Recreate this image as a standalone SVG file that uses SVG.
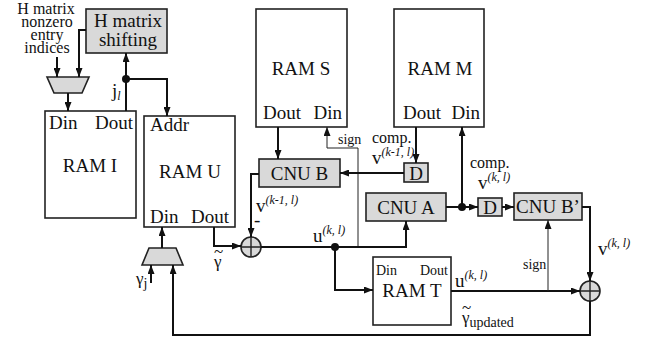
<svg xmlns="http://www.w3.org/2000/svg" width="651" height="343" viewBox="0 0 651 343" font-family="'Liberation Serif', 'Times New Roman', serif">
<defs>
<marker id="ah" markerWidth="9" markerHeight="7" refX="9" refY="3.5" orient="auto" markerUnits="userSpaceOnUse">
<path d="M0,0 L9,3.5 L0,7 z" fill="#111"/>
</marker>
<style>
.box{fill:#fff;stroke:#222;stroke-width:1.6}
.gbox{fill:#d9d9d9;stroke:#222;stroke-width:1.6}
.w{fill:none;stroke:#111;stroke-width:2;marker-end:url(#ah)}
.wn{fill:none;stroke:#111;stroke-width:2}
.t{fill:none;stroke:#222;stroke-width:1;marker-end:url(#ah)}
text{font-family:'Liberation Serif','Times New Roman',serif;fill:#111}
.l{font-size:19px}
.g{font-size:17px}
.m{font-size:16px}
.s{font-size:14px}
.sup{font-size:12px;font-style:italic}
.dot{fill:#111}
</style>
</defs>
<rect width="651" height="343" fill="#fff"/>

<g id="indices-label">
<text class="m" text-anchor="middle"><tspan x="46" y="14">H matrix</tspan><tspan x="47" y="27">nonzero</tspan><tspan x="47" y="40">entry</tspan><tspan x="47" y="53">indices</tspan></text>
</g>

<g id="h-shift">
<rect class="gbox" x="86" y="9" width="81" height="44"/>
<text class="l" x="128" y="27" text-anchor="middle">H matrix</text>
<text class="l" x="128" y="46" text-anchor="middle">shifting</text>
</g>

<g id="mux1">
<polygon class="gbox" points="47,77 89,77 82,93 54,93"/>
</g>

<g id="ram-i">
<rect class="box" x="45" y="111" width="91" height="107"/>
<text class="l" x="49" y="129">Din</text>
<text class="l" x="133" y="129" text-anchor="end">Dout</text>
<text class="l" x="90" y="172" text-anchor="middle">RAM I</text>
</g>

<g id="ram-u">
<rect class="box" x="144" y="116" width="91" height="111"/>
<text class="l" x="150" y="131">Addr</text>
<text class="l" x="190" y="178" text-anchor="middle">RAM U</text>
<text class="l" x="150" y="223">Din</text>
<text class="l" x="229" y="223" text-anchor="end">Dout</text>
</g>

<g id="mux2">
<polygon class="gbox" points="149,248 176,248 183,265 142,265"/>
</g>

<g id="ram-s">
<rect class="box" x="256" y="9" width="91" height="118"/>
<text class="l" x="301" y="75" text-anchor="middle">RAM S</text>
<text class="l" x="263" y="119">Dout</text>
<text class="l" x="342" y="119" text-anchor="end">Din</text>
</g>

<g id="ram-m">
<rect class="box" x="394" y="9" width="90" height="118"/>
<text class="l" x="440" y="75" text-anchor="middle">RAM M</text>
<text class="l" x="403" y="119">Dout</text>
<text class="l" x="480" y="119" text-anchor="end">Din</text>
</g>

<g id="cnu-b">
<rect class="gbox" x="259" y="159" width="81" height="28"/>
<text class="l" x="299.5" y="180" text-anchor="middle">CNU B</text>
</g>

<g id="d1">
<rect class="gbox" x="404" y="163" width="24" height="19"/>
<text class="l" x="416" y="180" text-anchor="middle">D</text>
</g>

<g id="cnu-a">
<rect class="gbox" x="366" y="193" width="80" height="28"/>
<text class="l" x="406" y="214" text-anchor="middle">CNU A</text>
</g>

<g id="d2">
<rect class="gbox" x="478" y="198" width="24" height="18"/>
<text class="l" x="490" y="214" text-anchor="middle">D</text>
</g>

<g id="cnu-b2">
<rect class="gbox" x="514" y="193" width="68" height="27"/>
<text class="l" x="548" y="213" text-anchor="middle">CNU B’</text>
</g>

<g id="ram-t">
<rect class="box" x="373" y="257" width="78" height="68"/>
<text class="s" x="376" y="275">Din</text>
<text class="s" x="448" y="275" text-anchor="end">Dout</text>
<text class="l" x="412" y="297" text-anchor="middle">RAM T</text>
</g>

<g id="adder1">
<circle class="gbox" cx="251" cy="247" r="10"/>
<path d="M241,247 H261 M251,237 V257" stroke="#222" stroke-width="1.4"/>
</g>

<g id="adder2">
<circle class="gbox" cx="590" cy="291" r="10"/>
<path d="M580,291 H600 M590,281 V301" stroke="#222" stroke-width="1.4"/>
</g>

<g id="connectors">
<path class="w" d="M57,57 V77"/>
<path class="w" d="M86,30 H79 V77"/>
<path class="w" d="M68,93 V111"/>
<path class="wn" d="M126,111 V79"/>
<path class="w" d="M126,79 V53"/>
<path class="w" d="M126,79 H167 V116"/>
<path class="w" d="M214,227 V246 H241"/>
<path class="w" d="M162,248 V227"/>
<path class="w" d="M151,283 V265"/>
<path class="w" d="M590,301 V335 H173 V265"/>
<path class="w" d="M278,127 V159"/>
<path class="t" d="M358,247 V148 H327 V127"/>
<path class="w" d="M416,127 V163"/>
<path class="w" d="M404,173 H340"/>
<path class="w" d="M259,174 H251 V237"/>
<path class="w" d="M261,247 H406 V221"/>
<path class="w" d="M335,247 V290 H373"/>
<path class="w" d="M446,207 H478"/>
<path class="w" d="M462,207 V127"/>
<path class="w" d="M502,207 H514"/>
<path class="w" d="M582,207 H590 V281"/>
<path class="w" d="M451,291 H580"/>
<path class="t" d="M548,291 V220"/>
<circle class="dot" cx="126" cy="79" r="4"/>
<circle class="dot" cx="335" cy="247" r="4"/>
<circle class="dot" cx="462" cy="207" r="4"/>
</g>

<g id="labels">
<text class="l" x="112" y="97">j<tspan class="sup" dy="3">l</tspan></text>
<text class="l" x="256" y="212">v<tspan class="sup" dy="-8">(k-1, l)</tspan></text>
<text class="l" x="254" y="226">-</text>
<text class="l" x="313" y="242">u<tspan class="sup" dy="-8">(k, l)</tspan></text>
<text class="s" x="338" y="144">sign</text>
<text class="m" x="372" y="143">comp.</text>
<text class="l" x="372" y="164">v<tspan class="sup" dy="-8">(k-1, l)</tspan></text>
<text class="m" x="470" y="168">comp.</text>
<text class="l" x="478" y="189">v<tspan class="sup" dy="-8">(k, l)</tspan></text>
<text class="l" x="598" y="255">v<tspan class="sup" dy="-8">(k, l)</tspan></text>
<text class="l" x="455" y="287">u<tspan class="sup" dy="-8">(k, l)</tspan></text>
<text class="s" x="523" y="269">sign</text>
<text class="g"><tspan x="214" y="257">~</tspan><tspan x="214" y="267">γ</tspan></text>
<text class="g"><tspan x="462" y="313">~</tspan><tspan x="462" y="323">γ</tspan><tspan class="s" dy="4">updated</tspan></text>
<text class="g" x="136" y="284">γ<tspan class="s" dy="4">j</tspan></text>
</g>
</svg>
